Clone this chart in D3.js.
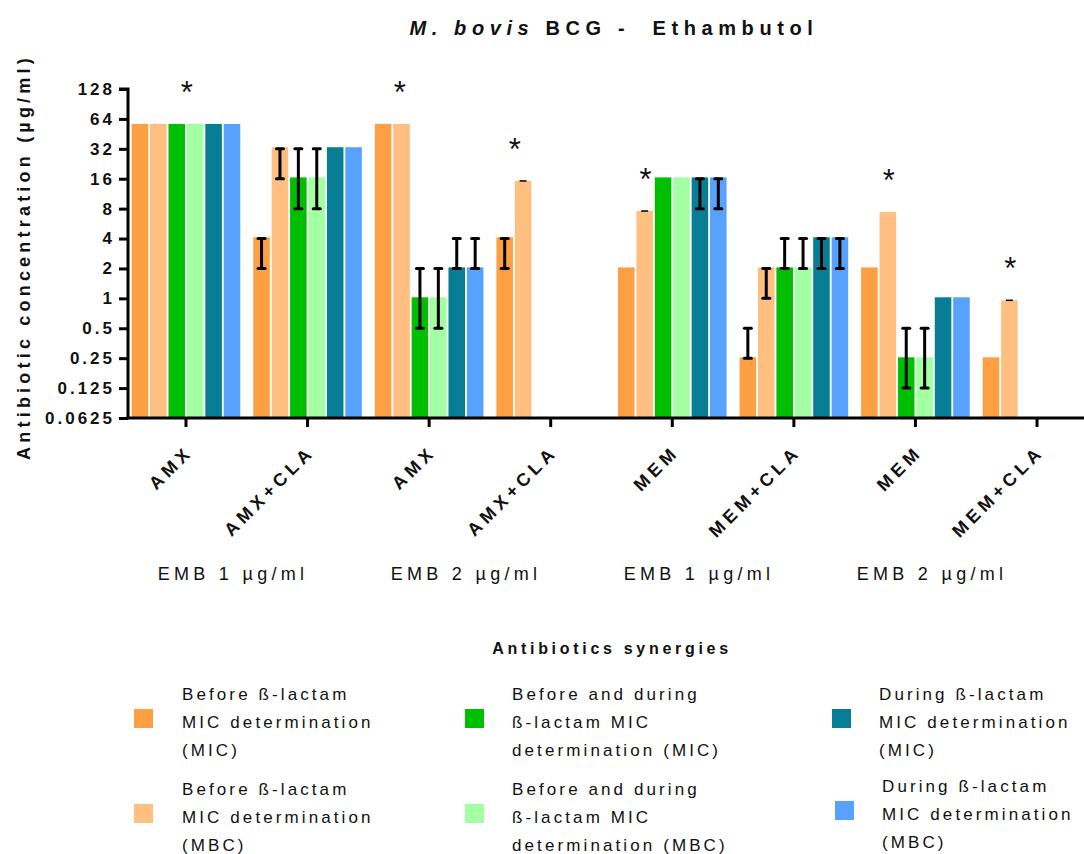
<!DOCTYPE html>
<html>
<head>
<meta charset="utf-8">
<script src="https://cdn.jsdelivr.net/npm/d3@7"></script>
<style>
  html, body { margin: 0; padding: 0; background: #fff; }
  svg { display: block; font-family: "Liberation Sans", Arial, sans-serif; }
  text { white-space: pre; }
</style>
</head>
<body>
<svg id="chart" width="1084" height="854"></svg>
<script>
// Antibiotic combinations (x categories) and their EMB pre-treatment
const groups = ["AMX", "AMX+CLA", "AMX", "AMX+CLA", "MEM", "MEM+CLA", "MEM", "MEM+CLA"];
const conditions = ["EMB 1 \u00b5g/ml", "EMB 2 \u00b5g/ml", "EMB 1 \u00b5g/ml", "EMB 2 \u00b5g/ml"];

// Series (timing of ethambutol exposure, MIC or MBC)
const seriesNames = [
  "Before \u00df-lactam MIC determination (MIC)",
  "Before \u00df-lactam MIC determination (MBC)",
  "Before and during \u00df-lactam MIC determination (MIC)",
  "Before and during \u00df-lactam MIC determination (MBC)",
  "During \u00df-lactam MIC determination (MIC)",
  "During \u00df-lactam MIC determination (MBC)"
];
const legendLines = [
  ["Before \u00df-lactam", "MIC determination", "(MIC)"],
  ["Before \u00df-lactam", "MIC determination", "(MBC)"],
  ["Before and during", "\u00df-lactam MIC", "determination (MIC)"],
  ["Before and during", "\u00df-lactam MIC", "determination (MBC)"],
  ["During \u00df-lactam", "MIC determination", "(MIC)"],
  ["During \u00df-lactam", "MIC determination", "(MBC)"]
];
const colors = ["#fca043", "#ffbf80", "#00bf00", "#a2ffa2", "#087d96", "#58a2ff"];

// Concentrations (µg/ml); null = not determined
const micBefore    = [57, 4.12, 57,    4.12, 2.05, 0.255, 2.05,  0.255];
const mbcBefore    = [57, 33.2, 57,    15.2, 7.57, 2.05,  7.4,   0.956];
const micBoth      = [57, 16.5, 1.025, null, 16.5, 2.05,  0.255, null];
const mbcBoth      = [57, 16.5, 1.025, null, 16.5, 2.05,  0.255, null];
const micDuring    = [57, 33.2, 2.05,  null, 16.5, 4.12,  1.025, null];
const mbcDuring    = [57, 33.2, 2.05,  null, 16.5, 4.12,  1.025, null];

// Error ranges [low, high] per bar; null = no bar drawn
const micBeforeErr = [null, [2, 4],   null,     [2, 4],       null,         [0.25, 0.5], null,          null];
const mbcBeforeErr = [null, [16, 32], null,     [15.2, 15.2], [7.57, 7.57], [1, 2],      null,          [0.956, 0.956]];
const micBothErr   = [null, [8, 32],  [0.5, 2], null,         null,         [2, 4],      [0.125, 0.5],  null];
const mbcBothErr   = [null, [8, 32],  [0.5, 2], null,         null,         [2, 4],      [0.125, 0.5],  null];
const micDuringErr = [null, null,     [2, 4],   null,         [8, 16],      [2, 4],      null,          null];
const mbcDuringErr = [null, null,     [2, 4],   null,         [8, 16],      [2, 4],      null,          null];

// Groups with a significant difference
const significant = [true, false, true, true, true, false, true, true];

const yTicks = [0.0625, 0.125, 0.25, 0.5, 1, 2, 4, 8, 16, 32, 64, 128];
const yTickLabels = ["0.0625", "0.125", "0.25", "0.5", "1", "2", "4", "8", "16", "32", "64", "128"];

const seriesValues = [micBefore, mbcBefore, micBoth, mbcBoth, micDuring, mbcDuring];
const seriesErrors = [micBeforeErr, mbcBeforeErr, micBothErr, mbcBothErr, micDuringErr, mbcDuringErr];

// ---- layout ----
const svg = d3.select("#chart");
const FONT = '"Liberation Sans", Arial, sans-serif';
const axisX = 128, axisY = 418, topY = 89;

const groupIdx = d3.range(groups.length);
const x = d3.scaleBand()
  .domain(groupIdx)
  .range([125.2, 1097.8])
  .paddingInner(0.1067)
  .paddingOuter(0.0533);
const xs = d3.scaleBand()
  .domain(d3.range(seriesNames.length))
  .range([0, x.bandwidth()])
  .paddingInner(0.1)
  .paddingOuter(0);
const y = d3.scaleLog().base(2).domain([0.0625, 128]).range([axisY, topY]);

// bars
const bars = [];
groupIdx.forEach(g => {
  seriesValues.forEach((vals, s) => {
    if (vals[g] != null) bars.push({ g, s, v: vals[g], err: seriesErrors[s][g] });
  });
});

svg.append("g").selectAll("rect").data(bars).join("rect")
  .attr("x", d => x(d.g) + xs(d.s))
  .attr("width", xs.bandwidth())
  .attr("y", d => y(d.v))
  .attr("height", d => y(0.0625) - y(d.v))
  .attr("fill", d => colors[d.s]);

// error bars (a zero-width range shows only a thin cap)
const eb = svg.append("g").attr("stroke", "#000");
bars.filter(d => d.err).forEach(d => {
  const cx = x(d.g) + xs(d.s) + xs.bandwidth() / 2;
  const [lo, hi] = d.err;
  if (hi > lo) {
    eb.append("line").attr("x1", cx).attr("x2", cx).attr("y1", y(hi)).attr("y2", y(lo))
      .attr("stroke-width", 3);
    [lo, hi].forEach(v => {
      eb.append("line").attr("x1", cx - 3.5).attr("x2", cx + 3.5)
        .attr("y1", y(v)).attr("y2", y(v))
        .attr("stroke-width", 3).attr("stroke-linecap", "round");
    });
  } else {
    eb.append("line").attr("x1", cx - 3.5).attr("x2", cx + 3.5)
      .attr("y1", y(hi)).attr("y2", y(hi)).attr("stroke-width", 1.5);
  }
});

// significance marks, placed above the MBC bar of the "before" series
const starPos = [3.0, 1.0, 1.35, 1.0, 1.5, 1.5, 1.5, 1.5];
svg.append("g").selectAll("text")
  .data(groupIdx.filter(g => significant[g]))
  .join("text")
  .attr("x", g => x(g) + xs.step() * starPos[g])
  .attr("y", g => y(mbcBefore[g]) - 21)
  .attr("text-anchor", "middle")
  .attr("font-size", 31)
  .attr("font-family", FONT)
  .attr("fill", "#111")
  .text("*");

// y axis
const yAxis = d3.axisLeft(y).tickValues(yTicks)
  .tickFormat((d, i) => yTickLabels[i]).tickSize(9).tickPadding(4);
const yg = svg.append("g").attr("transform", `translate(${axisX},0)`).call(yAxis);
yg.select(".domain").attr("d", `M-9,${topY}H0V${axisY}`).attr("stroke-width", 3).attr("stroke", "#000");
yg.selectAll(".tick line").attr("stroke-width", 3).attr("stroke", "#000");
yg.selectAll(".tick text")
  .attr("font-family", FONT).attr("font-size", 17).attr("font-weight", "bold")
  .attr("letter-spacing", "3px").attr("fill", "#111");

// x axis
const xAxis = d3.axisBottom(x).tickFormat(() => "").tickSize(9).tickSizeOuter(0);
const xg = svg.append("g").attr("transform", `translate(0,${axisY})`).call(xAxis);
xg.select(".domain").attr("d", `M${axisX - 1.5},0H1084`).attr("stroke-width", 3).attr("stroke", "#000");
xg.selectAll(".tick line").attr("stroke-width", 3).attr("stroke", "#000");

// rotated category labels
svg.append("g").selectAll("text").data(groupIdx).join("text")
  .attr("transform", g => `translate(${x(g) + x.bandwidth() / 2 + 8},${axisY + 35}) rotate(-45)`)
  .attr("text-anchor", "end")
  .attr("font-family", FONT).attr("font-size", 18).attr("font-weight", "bold")
  .attr("letter-spacing", "4.5px").attr("fill", "#111")
  .text(g => groups[g]);

// condition labels under each pair of groups
svg.append("g").selectAll("text").data(conditions).join("text")
  .attr("x", (d, i) => 233 + i * 233)
  .attr("y", 580)
  .attr("text-anchor", "middle")
  .attr("font-family", FONT).attr("font-size", 18)
  .attr("letter-spacing", "4.3px").attr("fill", "#111")
  .text(d => d);

// title
const title = svg.append("text")
  .attr("x", 614).attr("y", 35).attr("text-anchor", "middle")
  .attr("font-family", FONT).attr("font-size", 20).attr("font-weight", "bold")
  .attr("letter-spacing", "5.6px").attr("fill", "#111");
title.append("tspan").attr("font-style", "italic").text("M. bovis");
title.append("tspan").text(" BCG -  Ethambutol");

// y axis title
svg.append("text")
  .attr("transform", `translate(30,257) rotate(-90)`)
  .attr("text-anchor", "middle")
  .attr("font-family", FONT).attr("font-size", 18).attr("font-weight", "bold")
  .attr("letter-spacing", "4.2px").attr("fill", "#111")
  .text("Antibiotic concentration (\u00b5g/ml)");

// legend
svg.append("text")
  .attr("x", 612).attr("y", 654).attr("text-anchor", "middle")
  .attr("font-family", FONT).attr("font-size", 16).attr("font-weight", "bold")
  .attr("letter-spacing", "3.7px").attr("fill", "#111")
  .text("Antibiotics synergies");

const swatchX = [134, 465, 832];
const textX = [182, 512, 879];
const legend = svg.append("g").selectAll("g").data(seriesNames).join("g")
  .attr("transform", (d, i) => {
    const col = Math.floor(i / 2), row = i % 2;
    const dx = (col === 2 && row === 1) ? 3 : 0;
    const dy = (col === 2 && row === 1) ? -3 : 0;
    return `translate(${dx},${row * 95 + dy})`;
  });
legend.append("rect")
  .attr("x", (d, i) => swatchX[Math.floor(i / 2)])
  .attr("y", 709).attr("width", 19).attr("height", 19)
  .attr("fill", (d, i) => colors[i]);
legend.each(function (d, i) {
  const t = d3.select(this).append("text")
    .attr("font-family", FONT).attr("font-size", 17)
    .attr("letter-spacing", "3.1px").attr("fill", "#111");
  legendLines[i].forEach((line, k) => {
    t.append("tspan").attr("x", textX[Math.floor(i / 2)]).attr("y", 700 + k * 28).text(line);
  });
});
</script>
</body>
</html>
